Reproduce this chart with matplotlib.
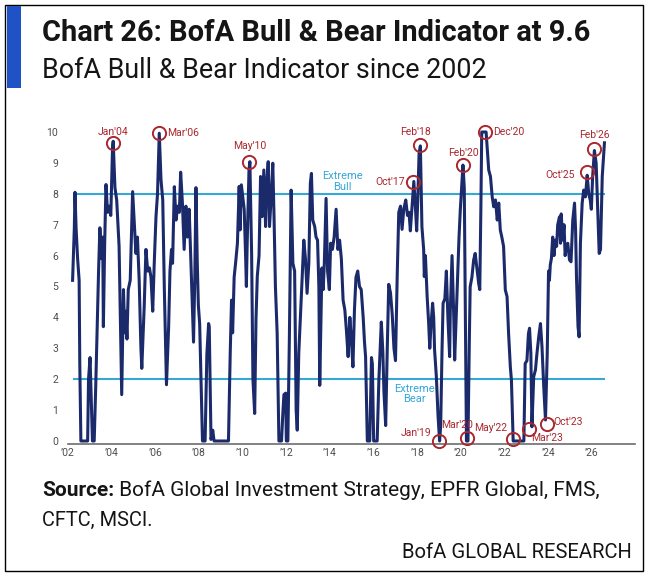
import matplotlib.pyplot as plt
from matplotlib.patches import Rectangle

# BofA Bull & Bear Indicator (decimal years)
dates = [
    2002.21, 2002.29, 2002.32, 2002.37, 2002.44, 2002.51, 2002.54, 2002.59, 2002.90, 2002.94,
    2003.01, 2003.06, 2003.12, 2003.20, 2003.27, 2003.35, 2003.40, 2003.46, 2003.54, 2003.59,
    2003.62, 2003.68, 2003.74, 2003.81, 2003.88, 2003.96, 2004.04, 2004.07, 2004.15, 2004.23,
    2004.34, 2004.42, 2004.46, 2004.54, 2004.60, 2004.65, 2004.70, 2004.76, 2004.85, 2004.96,
    2005.03, 2005.11, 2005.18, 2005.26, 2005.34, 2005.38, 2005.49, 2005.57, 2005.65, 2005.73,
    2005.80, 2005.88, 2005.95, 2006.03, 2006.10, 2006.18, 2006.26, 2006.34, 2006.41, 2006.51,
    2006.61, 2006.67, 2006.74, 2006.79, 2006.87, 2006.95, 2007.02, 2007.10, 2007.16, 2007.24,
    2007.32, 2007.40, 2007.47, 2007.55, 2007.63, 2007.69, 2007.75, 2007.81, 2007.86, 2007.92,
    2007.97, 2008.03, 2008.09, 2008.16, 2008.28, 2008.36, 2008.44, 2008.47, 2008.55, 2008.63,
    2008.69, 2009.35, 2009.43, 2009.49, 2009.54, 2009.61, 2009.69, 2009.76, 2009.84, 2009.88,
    2009.94, 2010.07, 2010.14, 2010.17, 2010.21, 2010.29, 2010.33, 2010.41, 2010.47, 2010.55,
    2010.61, 2010.67, 2010.75, 2010.82, 2010.89, 2010.97, 2011.05, 2011.09, 2011.17, 2011.23,
    2011.29, 2011.38, 2011.44, 2011.50, 2011.58, 2011.66, 2011.78, 2011.84, 2011.89, 2011.97,
    2012.00, 2012.07, 2012.14, 2012.22, 2012.30, 2012.38, 2012.45, 2012.50, 2012.57, 2012.64,
    2012.72, 2012.80, 2012.88, 2012.95, 2013.03, 2013.10, 2013.15, 2013.21, 2013.30, 2013.36,
    2013.43, 2013.49, 2013.53, 2013.58, 2013.63, 2013.69, 2013.74, 2013.82, 2013.89, 2013.97,
    2014.03, 2014.11, 2014.19, 2014.28, 2014.36, 2014.44, 2014.52, 2014.60, 2014.68, 2014.75,
    2014.83, 2014.91, 2014.99, 2015.05, 2015.12, 2015.19, 2015.27, 2015.35, 2015.43, 2015.52,
    2015.58, 2015.63, 2015.71, 2015.82, 2015.90, 2015.94, 2016.00, 2016.16, 2016.24, 2016.35,
    2016.42, 2016.47, 2016.55, 2016.62, 2016.69, 2016.77, 2016.85, 2016.93, 2017.00, 2017.08,
    2017.15, 2017.23, 2017.30, 2017.38, 2017.47, 2017.55, 2017.62, 2017.68, 2017.76, 2017.84,
    2017.91, 2017.97, 2018.02, 2018.08, 2018.14, 2018.21, 2018.29, 2018.32, 2018.37, 2018.45,
    2018.52, 2018.57, 2018.63, 2018.70, 2018.75, 2018.79, 2018.87, 2018.95, 2019.02, 2019.07,
    2019.13, 2019.18, 2019.26, 2019.33, 2019.40, 2019.48, 2019.51, 2019.59, 2019.67, 2019.71,
    2019.79, 2019.85, 2019.91, 2019.97, 2020.03, 2020.09, 2020.15, 2020.20, 2020.25, 2020.32,
    2020.38, 2020.42, 2020.50, 2020.58, 2020.65, 2020.73, 2020.81, 2020.86, 2020.91, 2020.95,
    2021.03, 2021.15, 2021.27, 2021.35, 2021.43, 2021.50, 2021.58, 2021.66, 2021.73, 2021.80,
    2021.87, 2021.95, 2022.03, 2022.11, 2022.18, 2022.26, 2022.31, 2022.39, 2022.88, 2022.94,
    2023.02, 2023.09, 2023.14, 2023.20, 2023.25, 2023.33, 2023.41, 2023.48, 2023.56, 2023.64,
    2023.71, 2023.79, 2023.87, 2023.95, 2024.01, 2024.05, 2024.09, 2024.14, 2024.20, 2024.26,
    2024.32, 2024.38, 2024.43, 2024.51, 2024.56, 2024.59, 2024.66, 2024.72, 2024.77, 2024.81,
    2024.89, 2024.97, 2025.04, 2025.12, 2025.20, 2025.25, 2025.29, 2025.36, 2025.41, 2025.47,
    2025.55, 2025.62, 2025.70, 2025.78, 2025.85, 2025.92, 2025.97, 2026.03, 2026.11, 2026.19,
    2026.26, 2026.33, 2026.39, 2026.47, 2026.57,
]
values = [
    5.2, 6.9, 8.05, 6.9, 5.9, 5.2, 2.5, 0.0, 0.0, 2.0,
    2.7, 1.5, 0.0, 0.0, 1.76, 4.1, 5.5, 6.9, 5.9, 6.6,
    3.7, 6.4, 8.3, 7.4, 7.6, 7.3, 9.5, 9.7, 8.2, 7.8,
    6.3, 3.0, 1.5, 4.9, 3.5, 4.2, 3.3, 4.9, 5.2, 8.07,
    7.15, 6.07, 6.6, 5.2, 3.0, 2.35, 4.35, 6.2, 5.5, 5.6,
    5.3, 4.2, 5.75, 7.26, 8.0, 9.96, 8.45, 7.8, 5.0, 1.82,
    3.7, 5.5, 6.2, 5.75, 8.23, 7.15, 7.6, 7.4, 8.7, 7.7,
    6.2, 7.6, 6.6, 7.5, 5.8, 4.6, 3.2, 5.4, 8.2, 5.8,
    4.4, 3.8, 2.0, 0.0, 0.0, 2.8, 3.8, 3.7, 0.05, 0.35,
    0.0, 0.0, 2.84, 4.56, 3.5, 5.3, 5.86, 6.4, 8.24, 6.83,
    8.29, 7.5, 5.86, 5.0, 6.5, 8.77, 9.04, 6.07, 2.0, 0.89,
    3.92, 5.33, 6.0, 8.56, 7.26, 8.77, 6.94, 8.2, 9.04, 6.94,
    7.7, 8.99, 7.15, 5.0, 3.48, 0.0, 0.0, 0.89, 1.5, 1.55,
    0.0, 0.0, 3.37, 8.12, 5.75, 5.5, 1.0, 0.35, 2.84, 3.92,
    5.2, 6.5, 5.86, 4.78, 5.75, 8.34, 8.66, 7.15, 6.94, 6.6,
    6.5, 5.0, 1.8, 3.7, 5.6, 4.9, 5.75, 7.85, 5.5, 4.9,
    6.4, 6.2, 6.6, 7.5, 6.2, 6.5, 5.9, 4.56, 4.24, 3.6,
    2.73, 4.0, 3.16, 2.4, 4.24, 5.3, 5.5, 5.0, 4.9, 4.0,
    3.2, 2.73, 0.0, 0.0, 2.7, 2.5, 0.0, 0.0, 2.0, 3.85,
    2.9, 1.6, 0.5, 2.9, 5.07, 4.8, 4.1, 3.0, 2.6, 5.4,
    7.4, 7.6, 6.85, 7.5, 7.8, 7.3, 7.4, 6.8, 7.6, 8.4,
    7.6, 6.8, 7.8, 9.3, 9.55, 6.94, 6.2, 5.32, 6.0, 4.67,
    3.8, 3.0, 3.8, 4.46, 4.0, 2.95, 2.1, 0.8, 0.0, 0.5,
    2.9, 4.46, 4.6, 5.5, 4.0, 2.73, 4.2, 6.0, 4.0, 2.62,
    4.2, 5.4, 6.6, 7.5, 8.2, 8.93, 8.2, 4.24, 0.0, 0.0,
    3.16, 4.99, 5.3, 5.86, 6.07, 5.6, 5.1, 4.9, 7.5, 10.0,
    10.0, 10.0, 8.77, 8.56, 7.9, 7.58, 7.8, 7.15, 7.7, 6.83,
    6.6, 6.3, 4.89, 4.67, 3.48, 2.4, 1.97, 0.0, 0.0, 2.51,
    2.6, 3.48, 3.65, 2.84, 0.46, 2.08, 2.3, 2.84, 3.37, 3.8,
    3.05, 1.76, 0.68, 2.84, 5.5, 5.2, 5.7, 5.9, 6.6, 6.0,
    6.5, 6.3, 7.0, 7.25, 6.4, 7.35, 6.5, 7.0, 6.0, 6.2,
    6.4, 5.86, 5.8, 7.15, 7.7, 6.8, 5.3, 3.7, 3.37, 6.4,
    7.7, 8.12, 7.9, 8.6, 8.0, 7.8, 7.5, 8.56, 9.4, 9.0,
    7.5, 6.07, 6.2, 8.56, 9.65,
]

# highlighted extremes: label, date, value
marks = ["Jan'04", "Mar'06", "May'10", "Oct'17", "Feb'18", "Feb'20", "Dec'20",
         "Oct'25", "Feb'26", "Jan'19", "Mar'20", "May'22", "Mar'23", "Oct'23"]
mark_dates = [2004.06, 2006.16, 2010.31, 2017.81, 2018.13, 2020.10, 2021.11,
              2025.78, 2026.10, 2019.00, 2020.28, 2022.39, 2023.13, 2023.94]
mark_values = [9.64, 9.98, 9.03, 8.38, 9.58, 8.93, 10.0,
               8.7, 9.45, 0.0, 0.1, 0.06, 0.38, 0.55]
# label offset (points) and alignment for each mark
mark_offsets = [(0, 8), (6, 0), (0, 11.5), (-6, 0), (-3.5, 9.5), (0, 8.6), (6, 0),
                (-9, -2), (0, 10), (-6, 6), (-7, 9), (-16, 8), (1.5, -6), (4.5, 1.5)]
mark_ha = ['center', 'left', 'center', 'right', 'center', 'center', 'left',
           'right', 'center', 'right', 'center', 'center', 'left', 'left']

bull_level = 8
bear_level = 2
years = list(range(2002, 2027, 2))
year_labels = ["\u2019%02d" % (y % 100) for y in years]

plt.rcParams['font.family'] = ['Roboto', 'DejaVu Sans']

NAVY = '#1b2a6b'
CYAN = '#35a8d8'
RED = '#a8282e'
GREY = '#4d4d4d'
INK = '#151515'

fig = plt.figure(figsize=(6.48, 5.77), dpi=100)
W, H = 648, 577

# frame and blue tab
fig.patches.append(Rectangle((5 / W, 1 - 571 / H), 638 / W, 566 / H, transform=fig.transFigure,
                             fill=False, ec='black', lw=1.0))
fig.patches.append(Rectangle((7 / W, 1 - 88 / H), 14 / W, 82 / H, transform=fig.transFigure,
                             fc='#1f52c4', ec='none'))

title = fig.text(42 / W, 1 - 33 / H, "Chart 26: BofA Bull & Bear Indicator at 9.6",
                 fontsize=19, fontweight='bold', color=INK, va='center', ha='left')
subtitle = fig.text(42 / W, 1 - 70 / H, "BofA Bull & Bear Indicator since 2002", fontsize=18,
                    color=INK, va='center', ha='left')

ymin, ymax = -0.1, 10.35
x0, x1 = 2002.02, 2027.97
bottom_px = 441 - ymin * 30.9
top_px = 441 - ymax * 30.9
ax = fig.add_axes([68 / W, 1 - bottom_px / H, (635 - 68) / W, (bottom_px - top_px) / H])

ax.hlines([bull_level, bear_level], 2002.21, 2026.6, colors=CYAN, lw=1.5, zorder=2)
ax.plot(dates, values, color=NAVY, lw=2.2, zorder=3)

ax.text(2014.56, 8.4, "Extreme\nBull", color=CYAN, fontsize=8, ha='center', va='center',
        linespacing=1.1)
ax.text(2017.86, 1.52, "Extreme\nBear", color=CYAN, fontsize=8, ha='center', va='center',
        linespacing=1.1)

ax.plot(mark_dates, mark_values, 'o', ms=9.5, mfc='none', mec=RED, mew=1.4, zorder=4,
        clip_on=False)
for lab, d, v, off, ha in zip(marks, mark_dates, mark_values, mark_offsets, mark_ha):
    ax.annotate(lab, (d, v), xytext=off, textcoords='offset points', ha=ha, va='center',
                color=RED, fontsize=7.5, annotation_clip=False)

ax.set_xlim(x0, x1)
ax.set_ylim(ymin, ymax)
ax.set_yticks(range(0, 11))
ax.set_xticks(years)
ax.set_xticklabels(year_labels)
ax.tick_params(axis='both', length=0, labelsize=7.5, colors=GREY)
ax.tick_params(axis='y', pad=7)
ax.tick_params(axis='x', pad=3)
for s in ['top', 'right', 'left']:
    ax.spines[s].set_visible(False)
ax.spines['bottom'].set_color('#6d6d6d')
ax.spines['bottom'].set_linewidth(1.2)

src = fig.text(42 / W, 1 - 490 / H, "Source:", fontsize=14, fontweight='bold',
               color=INK, va='center', ha='left')
src_rest = ax.annotate(" BofA Global Investment Strategy, EPFR Global, FMS,", xy=(1, 0.5),
                       xycoords=src, va='center', ha='left', fontsize=14, color=INK,
                       annotation_clip=False)
cftc = fig.text(42 / W, 1 - 520 / H, "CFTC, MSCI.", fontsize=14, color=INK,
                va='center', ha='left')
brand = fig.text(632 / W, 1 - 553 / H, "BofA GLOBAL RESEARCH", fontsize=14, color=INK,
                 va='center', ha='right')

# scale the header/footer text so each line spans the same width as in the original
renderer = fig.canvas.get_renderer()


def fit(texts, width_px):
    left = min(t.get_window_extent(renderer).x0 for t in texts)
    right = max(t.get_window_extent(renderer).x1 for t in texts)
    k = width_px / (right - left)
    for t in texts:
        t.set_fontsize(t.get_fontsize() * k)


fit([title], 550)
fit([subtitle], 445)
fit([src, src_rest], 561)
fit([cftc], 111)
fit([brand], 231)

fig.savefig('out.png', dpi=100)
